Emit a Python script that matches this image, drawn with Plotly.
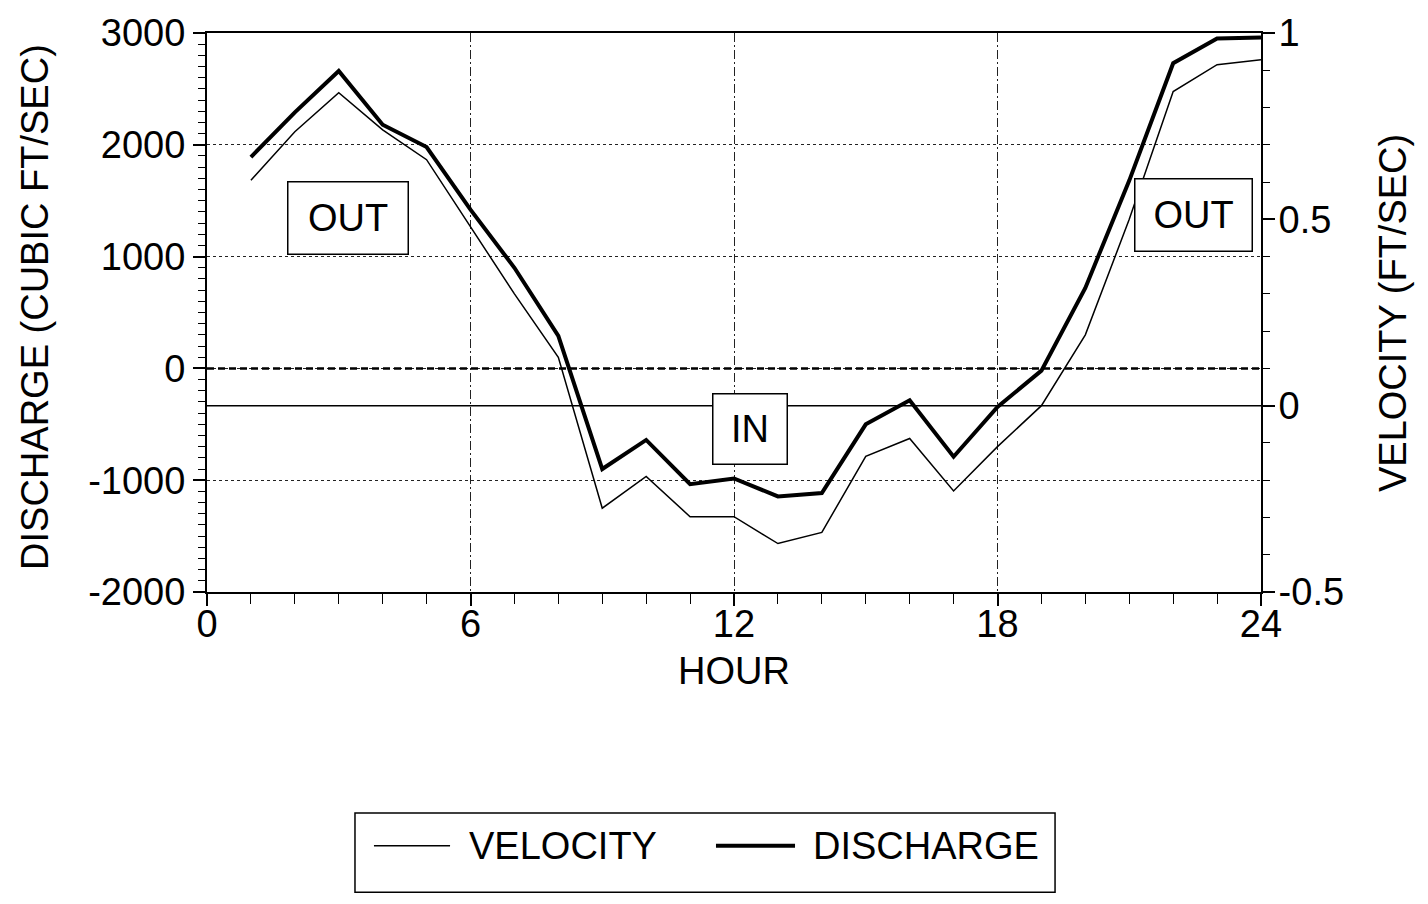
import plotly.graph_objects as go

# Hourly tidal record
hours = list(range(1, 25))
discharge_cfs = [1890, 2290, 2660, 2180, 1980, 1420, 900, 290, -900, -640,
                 -1035, -985, -1145, -1115, -500, -285, -790, -345, -20, 720,
                 1680, 2730, 2950, 2960]
velocity_fps = [0.605, 0.735, 0.84, 0.74, 0.66, 0.48, 0.30, 0.13, -0.275, -0.19,
                -0.298, -0.298, -0.37, -0.34, -0.136, -0.088, -0.229, -0.11, 0.0, 0.19,
                0.50, 0.843, 0.915, 0.928]

hour_ticks = [0, 6, 12, 18, 24]
discharge_ticks = [-2000, -1000, 0, 1000, 2000, 3000]
discharge_ticktext = ["-2000", "-1000", "0", "1000", "2000", "3000"]
velocity_ticks = [-0.5, 0, 0.5, 1]
velocity_ticktext = ["-0.5", "0", "0.5", "1"]

FONT = "Liberation Sans, Arial, Helvetica, sans-serif"
BIG = 38

fig = go.Figure()
fig.add_trace(go.Scatter(x=hours, y=velocity_fps, yaxis="y2", mode="lines",
                         name="VELOCITY", line=dict(color="black", width=1.5)))
fig.add_trace(go.Scatter(x=hours, y=discharge_cfs, mode="lines",
                         name="DISCHARGE", line=dict(color="black", width=4)))

tick_common = dict(ticks="outside", ticklen=12, tickwidth=1.5, tickcolor="black",
                   showline=True, linecolor="black", linewidth=2,
                   tickfont=dict(family=FONT, size=BIG, color="black"),
                   zeroline=False)

fig.update_layout(
    width=1428, height=904,
    margin=dict(l=207, r=167, t=28, b=312),
    paper_bgcolor="white", plot_bgcolor="white",
    showlegend=False,
    font=dict(family=FONT, size=BIG, color="black"),
    xaxis=dict(range=[0, 24], tickmode="array", tickvals=hour_ticks,
               mirror=True, showgrid=True, gridcolor="#222", gridwidth=1,
               griddash="9px,3px,2px,3px", ticklabelstandoff=-15,
               minor=dict(dtick=1, tick0=0, ticks="outside", ticklen=10,
                          tickwidth=1.2, tickcolor="black", showgrid=False),
               **tick_common),
    yaxis=dict(range=[-2000, 3000], tickmode="array", tickvals=discharge_ticks,
               ticktext=discharge_ticktext, mirror=True,
               showgrid=True, gridcolor="#222", gridwidth=1.2, griddash="3px,3px",
               minor=dict(dtick=100, tick0=0, ticks="outside", ticklen=7,
                          tickwidth=1.2, tickcolor="black", showgrid=False),
               **tick_common),
    yaxis2=dict(range=[-0.5, 1], overlaying="y", side="right",
                tickmode="array", tickvals=velocity_ticks, ticktext=velocity_ticktext,
                showgrid=False, ticklabelstandoff=-4,
                minor=dict(dtick=0.1, tick0=0, ticks="outside", ticklen=7,
                           tickwidth=1.2, tickcolor="black", showgrid=False),
                **tick_common),
)

# Reference lines: zero discharge (dashed) and zero velocity (solid)
fig.add_shape(type="line", xref="x", yref="y", x0=0, x1=24, y0=0, y1=0,
              line=dict(color="black", width=2.5, dash="7px,4px"))
fig.add_shape(type="line", xref="x", yref="y2", x0=0, x1=24, y0=0, y1=0,
              line=dict(color="black", width=1.5))

# Flow direction labels
box = dict(font=dict(family=FONT, size=BIG, color="black"), showarrow=False,
           bordercolor="black", borderwidth=1.5, bgcolor="white", borderpad=1)
fig.add_annotation(x=3.2, y=1343, xref="x", yref="y", text="OUT",
                   width=117, height=69, **box)
fig.add_annotation(x=22.47, y=1370, xref="x", yref="y", text="OUT",
                   width=114, height=69, **box)
fig.add_annotation(x=12.375, y=-545, xref="x", yref="y", text="IN",
                   width=71, height=67, **box)

# Axis titles
title_font = dict(family=FONT, size=BIG, color="black")
fig.add_annotation(x=-0.1632, y=0.51, xref="paper", yref="paper",
                   text="DISCHARGE (CUBIC FT/SEC)", textangle=-90,
                   xanchor="center", yanchor="middle", showarrow=False, font=title_font)
fig.add_annotation(x=1.1252, y=0.499, xref="paper", yref="paper",
                   text="VELOCITY (FT/SEC)", textangle=-90,
                   xanchor="center", yanchor="middle", showarrow=False, font=title_font)
fig.add_annotation(x=0.5, y=-0.1418, xref="paper", yref="paper", text="HOUR",
                   xanchor="center", yanchor="middle", showarrow=False, font=title_font)

# Legend box
fig.add_shape(type="rect", xref="paper", yref="paper",
              x0=0.1404, x1=0.8046, y0=-0.5372, y1=-0.3954,
              line=dict(color="black", width=1.5), fillcolor="white")
legend_y = -0.4539
fig.add_shape(type="line", xref="paper", yref="paper",
              x0=0.1584, x1=0.2306, y0=legend_y, y1=legend_y,
              line=dict(color="black", width=1.5))
fig.add_shape(type="line", xref="paper", yref="paper",
              x0=0.4829, x1=0.5579, y0=legend_y, y1=legend_y,
              line=dict(color="black", width=4))
fig.add_annotation(x=0.2466, y=legend_y, xref="paper", yref="paper", text="VELOCITY",
                   xanchor="left", yanchor="middle", showarrow=False, font=title_font)
fig.add_annotation(x=0.5730, y=legend_y, xref="paper", yref="paper", text="DISCHARGE",
                   xanchor="left", yanchor="middle", showarrow=False, font=title_font)

fig.write_html("out.html")
